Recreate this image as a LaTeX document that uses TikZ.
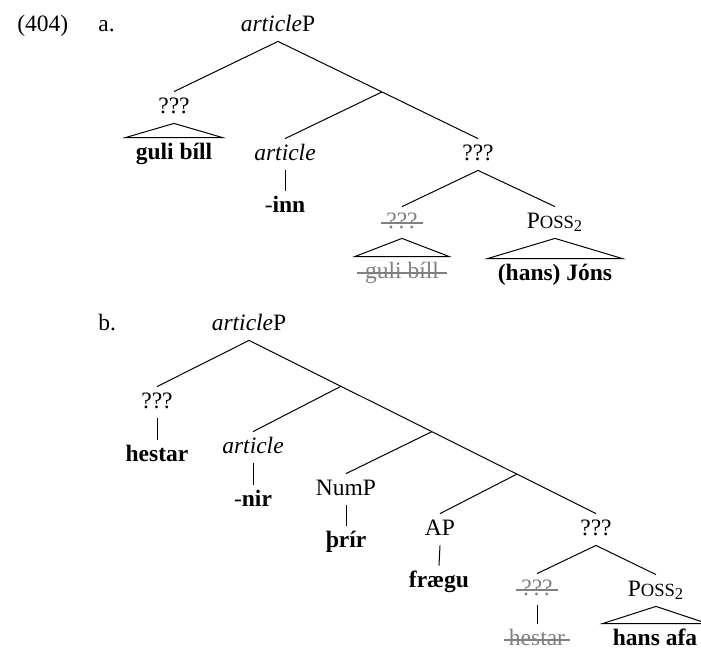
\documentclass[tikz,border=0pt]{standalone}
\usepackage{fontspec}
\setmainfont{Liberation Serif}
\usetikzlibrary{calc}
\newcommand{\treesize}{\fontsize{11.75}{14}\selectfont}
\newcommand{\poss}{P{\fontsize{9.3}{10}\selectfont OSS}\textsubscript{2}}
\tikzset{
  cat/.style={
    anchor=base, inner sep=2.5pt,
    text height=8pt, text depth=2.5pt,
    font=\treesize
  },
  roof/.style={cat, inner xsep=5pt},
  gone/.style={cat, text=gray},
  branch/.style={line width=0.5pt},
  strike/.style={line width=1pt, gray},
}

\begin{document}
\begin{tikzpicture}[x=0.5pt, y=-0.5pt]
  \useasboundingbox (0,0) rectangle (701,650);

  \node (numA)  [cat, anchor=base west] at (12,31)  {(404)};
  \node (lblA)  [cat, anchor=base west] at (93,31)  {a.};
  \node (apA)   [cat]  at (278,31)  {\textit{article}P};
  \node (q1A)   [cat]  at (174,113) {???};
  \node (g1A)   [roof] at (174,159) {\textbf{guli bíll}};
  \node (artA)  [cat]  at (285,160) {\textit{article}};
  \node (innA)  [cat]  at (285,212) {-\textbf{inn}};
  \node (q2A)   [cat]  at (478,160) {???};
  \node (q3A)   [gone] at (402,228) {???};
  \node (g2A)   [gone, inner xsep=5pt] at (402,278) {guli bíll};
  \node (posA)  [cat]  at (555,228) {\poss};
  \node (hjA)   [roof] at (555,280) {\textbf{(hans) Jóns}};

  \coordinate (xA) at ($(apA.south)!0.52!(q2A.north)$);

  \draw [branch] (apA.south) -- (q1A.north);
  \draw [branch] (apA.south) -- (q2A.north);
  \draw [branch] (xA) -- (artA.north);
  \draw [branch] (artA.south) -- (innA.north);
  \draw [branch] (q1A.south) -- (g1A.north west) -- (g1A.north east) -- cycle;
  \draw [branch] (q2A.south) -- (q3A.north);
  \draw [branch] (q2A.south) -- (posA.north);
  \draw [branch] (q3A.south) -- (g2A.north west) -- (g2A.north east) -- cycle;
  \draw [branch] (posA.south) -- (hjA.north west) -- (hjA.north east) -- cycle;
  \draw [strike] ([yshift=2.5pt]q3A.base west) -- ([yshift=2.5pt]q3A.base east);
  \draw [strike] ([xshift=1pt,yshift=2.5pt]g2A.base west) -- ([xshift=-1pt,yshift=2.5pt]g2A.base east);

  \node (lblB)  [cat, anchor=base west] at (93,330) {b.};
  \node (apB)   [cat]  at (249,330) {\textit{article}P};
  \node (q1B)   [cat]  at (157,408) {???};
  \node (hsB)   [cat]  at (157,461) {\textbf{hestar}};
  \node (artB)  [cat]  at (253,453) {\textit{article}};
  \node (nirB)  [cat]  at (253,506) {-\textbf{nir}};
  \node (numB)  [cat]  at (346,495) {NumP};
  \node (thB)   [cat]  at (346,547) {\textbf{þrír}};
  \node (adjB)  [cat]  at (440,535) {AP};
  \node (frB)   [cat]  at (439,587) {\textbf{frægu}};
  \node (q2B)   [cat]  at (596,535) {???};
  \node (q3B)   [gone] at (537,595) {???};
  \node (hs2B)  [gone] at (537,645) {hestar};
  \node (posB)  [cat]  at (656,596) {\poss};
  \node (haB)   [roof] at (655,645) {\textbf{hans afa}};

  \coordinate (xB1) at ($(apB.south)!0.265!(q2B.north)$);
  \coordinate (xB2) at ($(apB.south)!0.527!(q2B.north)$);
  \coordinate (xB3) at ($(apB.south)!0.772!(q2B.north)$);

  \draw [branch] (apB.south) -- (q1B.north);
  \draw [branch] (apB.south) -- (q2B.north);
  \draw [branch] (q1B.south) -- (hsB.north);
  \draw [branch] (xB1) -- (artB.north);
  \draw [branch] (artB.south) -- (nirB.north);
  \draw [branch] (xB2) -- (numB.north);
  \draw [branch] (numB.south) -- (thB.north);
  \draw [branch] (xB3) -- (adjB.north);
  \draw [branch] (adjB.south) -- (frB.north);
  \draw [branch] (q2B.south) -- (q3B.north);
  \draw [branch] (q2B.south) -- (posB.north);
  \draw [branch] (q3B.south) -- (hs2B.north);
  \draw [branch] (posB.south) -- (haB.north west) -- (haB.north east) -- cycle;
  \draw [strike] ([yshift=2.5pt]q3B.base west) -- ([yshift=2.5pt]q3B.base east);
  \draw [strike] ([yshift=2.5pt]hs2B.base west) -- ([yshift=2.5pt]hs2B.base east);
\end{tikzpicture}
\end{document}
